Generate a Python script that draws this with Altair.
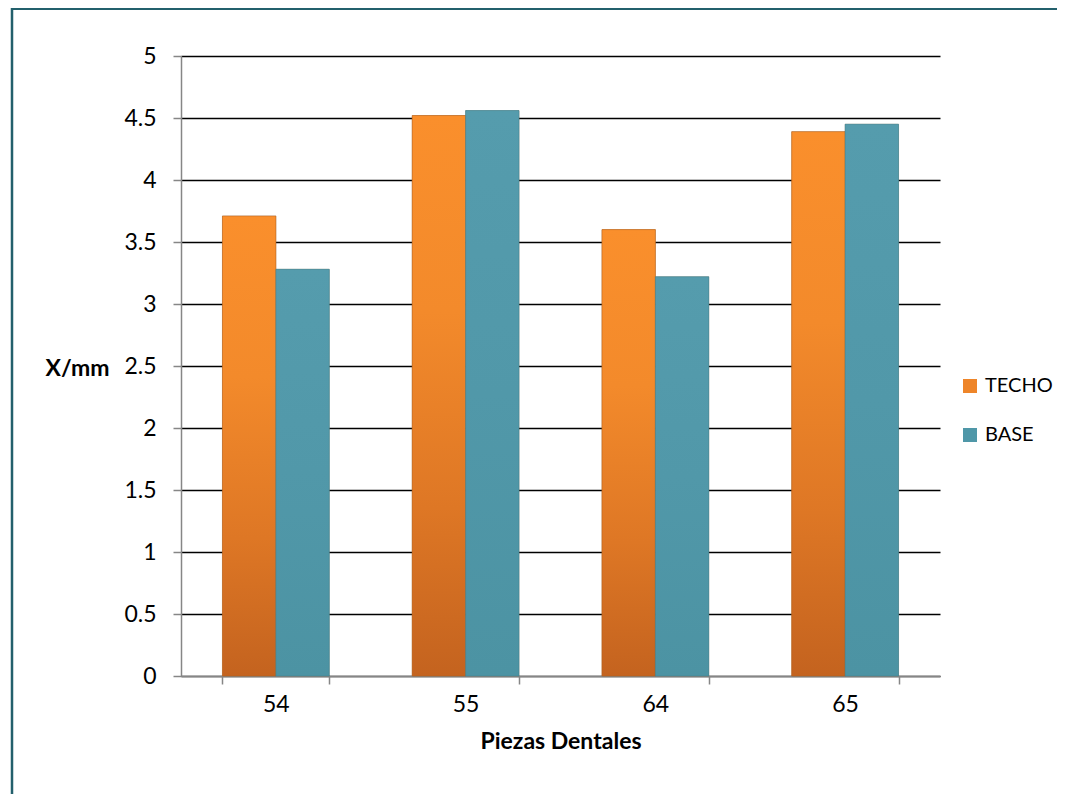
import altair as alt
import pandas as pd

piezas = ["54", "55", "64", "65"]
series = ["TECHO", "BASE"]
techo = [3.71, 4.52, 3.60, 4.39]
base = [3.28, 4.56, 3.22, 4.45]
y_ticks = [0, 0.5, 1, 1.5, 2, 2.5, 3, 3.5, 4, 4.5, 5]

rows = []
for p, t, b in zip(piezas, techo, base):
    rows.append({"pieza": p, "serie": "TECHO", "valor": t})
    rows.append({"pieza": p, "serie": "BASE", "valor": b})
df = pd.DataFrame(rows)

FONT = "Lato"
FS = 23
AXIS_GRAY = "#868686"
ORANGE = "#EE8529"
TEAL = "#4F97A8"
BORDER = "#23606C"

x_enc = alt.X(
    "pieza:N",
    sort=piezas,
    scale=alt.Scale(paddingInner=0.437, paddingOuter=0.2185),
    axis=alt.Axis(
        title="Piezas Dentales",
        titleFont=FONT, titleFontSize=FS, titleFontWeight="bold", titleColor="black",
        titlePadding=14,
        labelFont=FONT, labelFontSize=FS, labelColor="black", labelAngle=0, labelPadding=9,
        domainColor=AXIS_GRAY, domainWidth=1.5,
        tickColor=AXIS_GRAY, tickWidth=1.5, tickSize=8, tickBand="extent",
        grid=False,
    ),
)
xo_enc = alt.XOffset("serie:N", scale=alt.Scale(domain=series, paddingInner=0, paddingOuter=0))
y_enc = alt.Y(
    "valor:Q",
    scale=alt.Scale(domain=[0, 5], nice=False),
    axis=alt.Axis(
        title="X/mm",
        titleFont=FONT, titleFontSize=FS, titleFontWeight="bold", titleColor="black",
        titleAngle=0, titleAlign="center", titleBaseline="middle",
        titleX=-104, titleY=312,
        values=y_ticks, format="~g",
        labelFont=FONT, labelFontSize=FS, labelColor="black", labelPadding=17,
        domainColor=AXIS_GRAY, domainWidth=1.5,
        tickColor=AXIS_GRAY, tickWidth=1.5, tickSize=8,
        grid=True, gridColor="black", gridWidth=1.6,
    ),
)

bars = alt.Chart(df).mark_bar(stroke="#8a5a30", strokeOpacity=0.25, strokeWidth=1).encode(
    x=x_enc,
    xOffset=xo_enc,
    y=y_enc,
    color=alt.Color(
        "serie:N",
        scale=alt.Scale(domain=series, range=[ORANGE, TEAL]),
        legend=alt.Legend(
            title=None, orient="none", legendX=779, legendY=320,
            symbolType="square", symbolSize=196, symbolStrokeWidth=0,
            labelFont=FONT, labelFontSize=20, labelColor="black", labelOffset=5,
            rowPadding=29,
        ),
    ),
)

orange_grad = alt.Chart(df).transform_filter(alt.datum.serie == "TECHO").mark_bar(
    fill=alt.Gradient(
        gradient="linear",
        stops=[
            alt.GradientStop(color="#FA8F2C", offset=0),
            alt.GradientStop(color="#F38A2B", offset=0.35),
            alt.GradientStop(color="#DE7725", offset=0.7),
            alt.GradientStop(color="#C4631F", offset=1),
        ],
        x1=0, x2=0, y1=0, y2=1,
    ),
    stroke="#B0601E", strokeOpacity=0.5, strokeWidth=1,
).encode(x=x_enc, xOffset=xo_enc, y=y_enc)

teal_grad = alt.Chart(df).transform_filter(alt.datum.serie == "BASE").mark_bar(
    fill=alt.Gradient(
        gradient="linear",
        stops=[
            alt.GradientStop(color="#559CAD", offset=0),
            alt.GradientStop(color="#5198A9", offset=0.5),
            alt.GradientStop(color="#4C93A3", offset=1),
        ],
        x1=0, x2=0, y1=0, y2=1,
    ),
    stroke="#3F7F8E", strokeOpacity=0.5, strokeWidth=1,
).encode(x=x_enc, xOffset=xo_enc, y=y_enc)

frame_data = alt.Data(values=[{"k": 1}])
top_line = alt.Chart(frame_data).mark_rule(color=BORDER, strokeWidth=2).encode(
    x=alt.value(-170), x2=alt.value(1000), y=alt.value(-47)
)
left_line = alt.Chart(frame_data).mark_rule(color=BORDER, strokeWidth=2.5).encode(
    x=alt.value(-169), y=alt.value(-48), y2=alt.value(800)
)

chart = alt.layer(bars, orange_grad, teal_grad, top_line, left_line).properties(
    width=759,
    height=620,
    autosize=alt.AutoSizeParams(type="none"),
    padding={"left": 173, "top": 48, "right": 117, "bottom": 118},
    background="white",
).configure_view(stroke=None)

chart.save("out.html", embed_options={"renderer": "svg", "actions": False})
